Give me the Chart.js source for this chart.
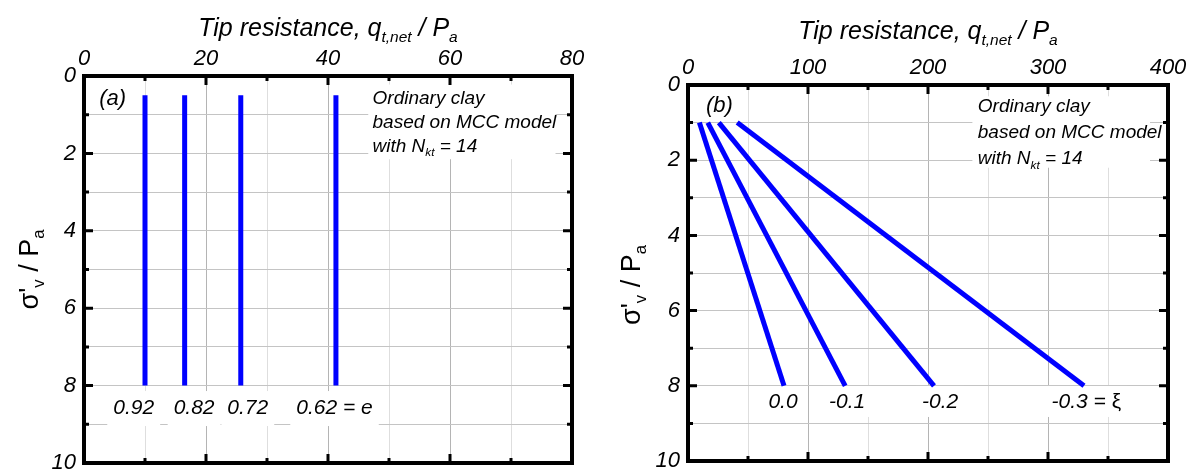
<!DOCTYPE html>
<html>
<head>
<meta charset="utf-8">
<script src="https://cdn.jsdelivr.net/npm/chart.js@4.4.1/dist/chart.umd.min.js"></script>
<style>
  html, body { margin: 0; padding: 0; background: #fff; }
  #wrap { position: relative; width: 1189px; height: 472px; }
  .panel { position: absolute; top: 0; }
  #pa { left: 0; }
  #pb { left: 595px; }
</style>
</head>
<body>
<div id="wrap">
  <div class="panel" id="pa"><canvas id="chartA" width="595" height="472"></canvas></div>
  <div class="panel" id="pb"><canvas id="chartB" width="594" height="472"></canvas></div>
</div>
<script>
// Panel (a): void ratio e -> constant tip resistance with depth
const voidRatios = ['0.92', '0.82', '0.72', '0.62'];
const tipByVoidRatio = [10, 16.5, 25.7, 41.3];
const stressRangeA = [0.5, 8];

// Panel (b): state parameter xi -> tip resistance grows with stress
const stateParams = ['0.0', '-0.1', '-0.2', '-0.3'];
const tipTopB = [9.5, 16.5, 25.7, 41];
const tipBottomB = [80, 131, 205, 330];
const stressRangeB = [1, 8];

// tick labels
const xTickLabelsA = [0, 20, 40, 60, 80];
const xTickLabelsB = [0, 100, 200, 300, 400];
const yTickLabels = [0, 2, 4, 6, 8, 10];

const FAM = "'Liberation Sans', Arial, Helvetica, sans-serif";

function fontFor(p, size, italic) {
    const st = italic && !p.up ? 'italic ' : '';
    return st + (p.sub ? size * 0.62 : size) + 'px ' + FAM;
}

// draws text made of normal and subscript pieces
function drawRich(ctx, parts, x, y, size, align, italic) {
    let w = 0;
    parts.forEach(p => {
        ctx.font = fontFor(p, size, italic);
        p.w = ctx.measureText(p.t).width;
        w += p.w;
    });
    let cx = align === 'center' ? x - w / 2 : x;
    parts.forEach(p => {
        ctx.font = fontFor(p, size, italic);
        ctx.fillText(p.t, cx, p.sub ? y + size * 0.24 : y);
        cx += p.w;
    });
    return w;
}

function labelParts(o, i) {
    const parts = [{ t: o.labels[i] }];
    if (i === o.labels.length - 1) parts.push(...o.lastSuffix);
    return parts;
}

const decor = {
    id: 'decor',
    beforeDatasetsDraw(chart, args, o) {
        const ctx = chart.ctx, xs = chart.scales.x, ys = chart.scales.y;
        ctx.save();
        ctx.fillStyle = '#fff';
        // white box behind the note
        const b = o.noteBox;
        ctx.fillRect(xs.getPixelForValue(b[0]), ys.getPixelForValue(b[2]),
            xs.getPixelForValue(b[1]) - xs.getPixelForValue(b[0]),
            ys.getPixelForValue(b[3]) - ys.getPixelForValue(b[2]));
        // white boxes behind curve labels
        o.labels.forEach((lab, i) => {
            let w = 0;
            labelParts(o, i).forEach(p => { ctx.font = fontFor(p, o.labelSize, true); w += ctx.measureText(p.t).width; });
            const x = xs.getPixelForValue(o.labelX[i]);
            const y = ys.getPixelForValue(o.labelY);
            ctx.fillRect(x - 6, y - o.boxUp, w + 12, o.boxUp + o.boxDown);
        });
        ctx.restore();
    },
    afterDraw(chart, args, o) {
        const ctx = chart.ctx, a = chart.chartArea, xs = chart.scales.x, ys = chart.scales.y;
        ctx.save();
        ctx.fillStyle = '#000';
        ctx.strokeStyle = '#000';
        // inward ticks on all four sides
        ctx.lineWidth = 3;
        xs.ticks.forEach(t => {
            const px = xs.getPixelForValue(t.value);
            if (px <= a.left + 1 || px >= a.right - 1) return;
            const len = t.label !== '' ? 9 : 5;
            ctx.beginPath();
            ctx.moveTo(px, a.top); ctx.lineTo(px, a.top + len);
            ctx.moveTo(px, a.bottom); ctx.lineTo(px, a.bottom - len);
            ctx.stroke();
        });
        ys.ticks.forEach(t => {
            const py = ys.getPixelForValue(t.value);
            if (py <= a.top + 1 || py >= a.bottom - 1) return;
            const len = t.label !== '' ? 9 : 5;
            ctx.beginPath();
            ctx.moveTo(a.left, py); ctx.lineTo(a.left + len, py);
            ctx.moveTo(a.right, py); ctx.lineTo(a.right - len, py);
            ctx.stroke();
        });
        // frame
        ctx.lineWidth = 4;
        ctx.strokeRect(a.left, a.top, a.right - a.left, a.bottom - a.top);

        // top axis title
        ctx.textBaseline = 'alphabetic';
        drawRich(ctx, [{ t: 'Tip resistance, q' }, { t: 't,net', sub: true }, { t: ' / P' }, { t: 'a', sub: true }],
            (a.left + a.right) / 2, a.top + o.titleDy, 25, 'center', true);

        // left axis title, rotated
        ctx.save();
        ctx.translate(a.left + o.yTitleDx, (a.top + a.bottom) / 2 + o.yTitleDy);
        ctx.rotate(-Math.PI / 2);
        drawRich(ctx, [{ t: "\u03c3'" }, { t: 'v', sub: true }, { t: ' / P' }, { t: 'a', sub: true }], 0, 0, 27, 'center', false);
        ctx.restore();

        // panel tag and note
        ctx.font = 'italic 22px ' + FAM;
        ctx.fillText(o.tag, xs.getPixelForValue(o.tagPos[0]), ys.getPixelForValue(o.tagPos[1]));
        const nx = xs.getPixelForValue(o.notePos[0]);
        let ny = ys.getPixelForValue(o.notePos[1]);
        drawRich(ctx, [{ t: 'Ordinary clay' }], nx, ny, o.noteSize, 'left', true);
        ny += o.noteLine;
        drawRich(ctx, [{ t: 'based on MCC model' }], nx, ny, o.noteSize, 'left', true);
        ny += o.noteLine;
        drawRich(ctx, [{ t: 'with N' }, { t: 'kt', sub: true }, { t: ' = 14' }], nx, ny, o.noteSize, 'left', true);

        // curve labels
        ctx.textBaseline = 'middle';
        o.labels.forEach((lab, i) => {
            drawRich(ctx, labelParts(o, i), xs.getPixelForValue(o.labelX[i]), ys.getPixelForValue(o.labelY), o.labelSize, 'left', true);
        });
        ctx.restore();
    }
};

function makeChart(id, datasets, xMax, xStep, xLabels, axisLeft, axisTop, padRight, padBottom, decorOpts) {
    return new Chart(document.getElementById(id), {
        type: 'line',
        data: { datasets: datasets },
        options: {
            responsive: false,
            animation: false,
            devicePixelRatio: 1,
            layout: { padding: { left: 0, right: padRight, top: 0, bottom: padBottom } },
            plugins: { legend: { display: false }, tooltip: { enabled: false }, decor: decorOpts },
            elements: { point: { radius: 0 }, line: { borderWidth: 5, borderColor: '#0000ff', tension: 0 } },
            scales: {
                x: {
                    type: 'linear', position: 'top', min: 0, max: xMax,
                    afterFit: s => { s.height = axisTop; s.paddingLeft = 0; s.paddingRight = 0; },
                    border: { display: false },
                    grid: {
                        drawTicks: false,
                        color: c => (xLabels.includes(c.tick.value) ? '#b4b4b4' : '#dedede'),
                        lineWidth: 1
                    },
                    ticks: {
                        stepSize: xStep, padding: 4, color: '#000', maxRotation: 0,
                        font: { family: FAM, size: 22, style: 'italic' },
                        callback: v => (xLabels.includes(v) ? String(v) : '')
                    }
                },
                y: {
                    type: 'linear', reverse: true, min: 0, max: 10,
                    afterFit: s => { s.width = axisLeft; s.paddingTop = 0; s.paddingBottom = 0; },
                    border: { display: false },
                    grid: { drawTicks: false, color: '#c4c4c4', lineWidth: 1 },
                    ticks: {
                        stepSize: 1, padding: 8, color: '#000',
                        font: { family: FAM, size: 22, style: 'italic' },
                        callback: v => (yTickLabels.includes(v) ? String(v) : '')
                    }
                }
            }
        },
        plugins: [decor]
    });
}

const dsA = voidRatios.map((e, i) => ({
    label: 'e = ' + e,
    data: [{ x: tipByVoidRatio[i], y: stressRangeA[0] }, { x: tipByVoidRatio[i], y: stressRangeA[1] }]
}));

const dsB = stateParams.map((xi, i) => ({
    label: '\u03be = ' + xi,
    data: [{ x: tipTopB[i], y: stressRangeB[0] }, { x: tipBottomB[i], y: stressRangeB[1] }]
}));

makeChart('chartA', dsA, 80, 10, xTickLabelsA, 84, 76, 23, 9, {
    tag: '(a)', tagPos: [2.5, 0.75],
    notePos: [47.3, 0.72], noteSize: 19, noteLine: 24, noteBox: [46.6, 77.3, 0.22, 2.15],
    labels: voidRatios, labelX: [4.8, 14.7, 23.5, 34.8], labelY: 8.58,
    lastSuffix: [{ t: ' = e' }], labelSize: 21, boxUp: 17, boxDown: 18,
    titleDy: -40, yTitleDx: -46, yTitleDy: 0
});

makeChart('chartB', dsB, 400, 50, xTickLabelsB, 93, 85, 21, 11, {
    tag: '(b)', tagPos: [15, 0.72],
    notePos: [241.5, 0.72], noteSize: 19, noteLine: 26, noteBox: [237, 385, 0.3, 2.2],
    labels: stateParams, labelX: [67, 117.5, 195, 303], labelY: 8.43,
    lastSuffix: [{ t: ' = ' }, { t: '\u03be', up: true }], labelSize: 21, boxUp: 16, boxDown: 15,
    titleDy: -46, yTitleDx: -48, yTitleDy: 12
});
</script>
</body>
</html>
